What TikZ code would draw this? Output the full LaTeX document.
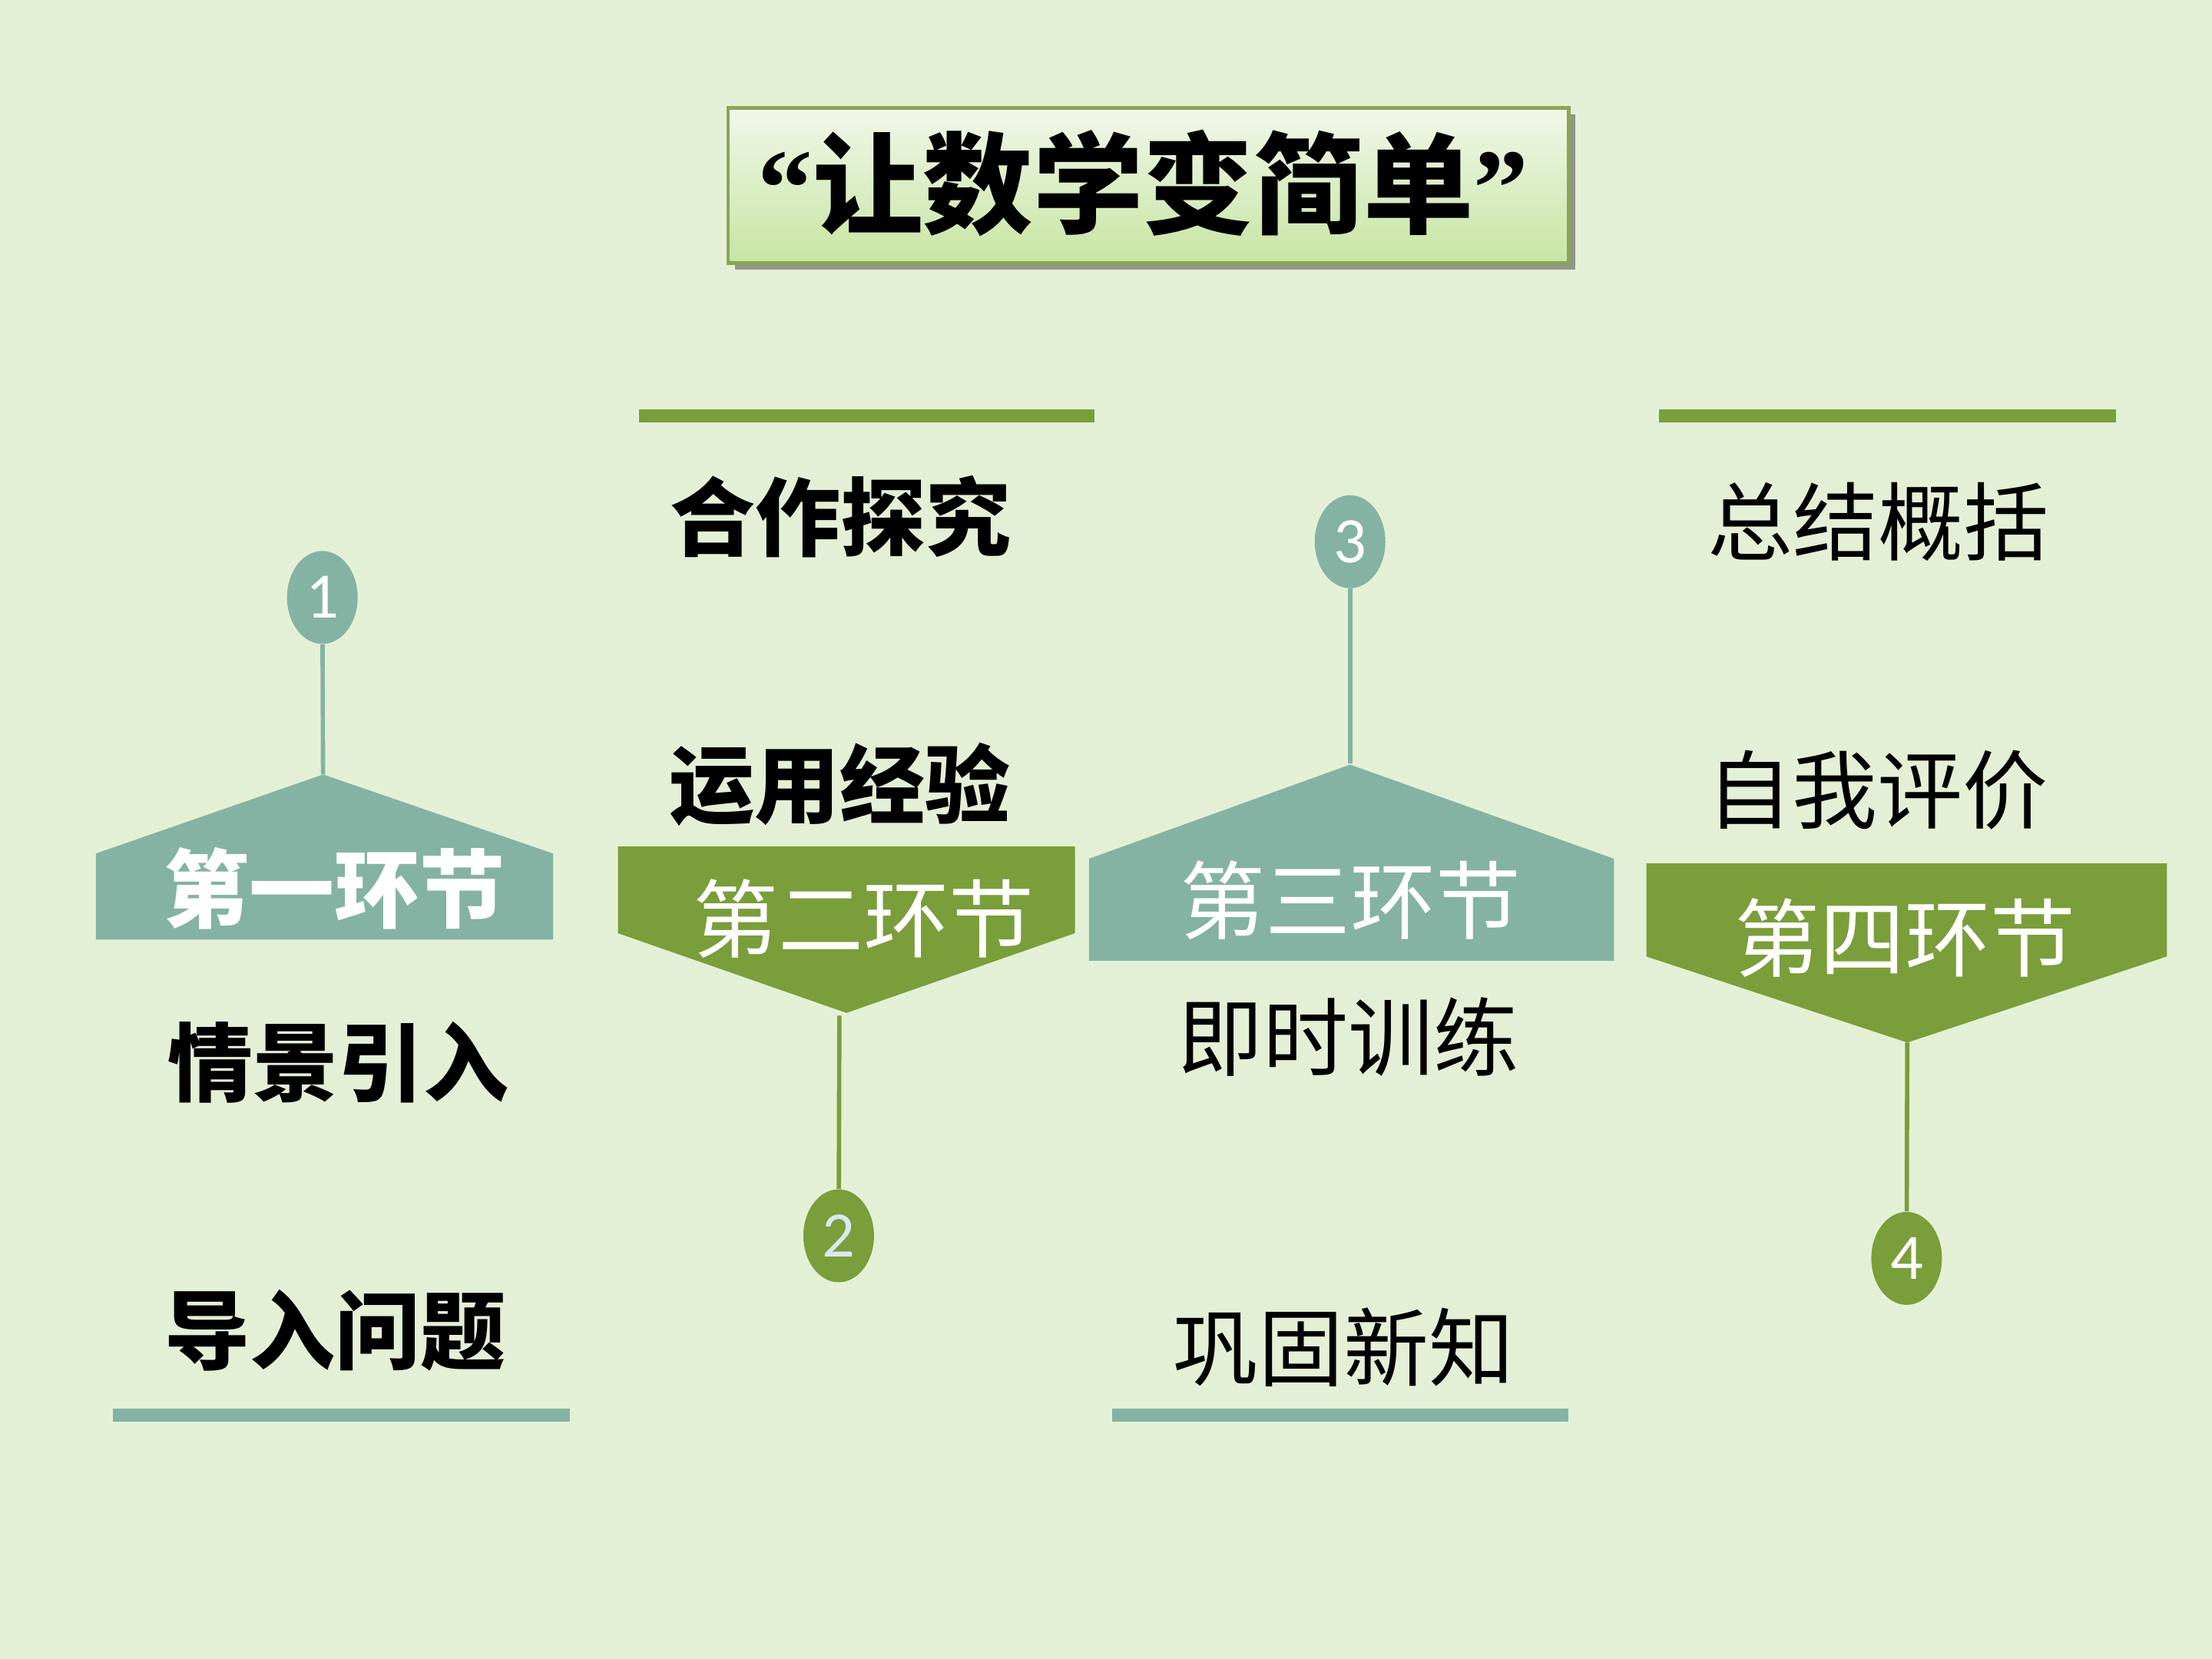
\documentclass[tikz,border=0pt]{standalone}
\usepackage{fontspec}
\usetikzlibrary{shapes.geometric,shadows}
\newfontfamily\cjk{Noto Sans CJK SC}
\newfontfamily\guill{Liberation Serif}
\newfontfamily\chiffre{Carlito}
\definecolor{fond}{RGB}{228,240,214}
\definecolor{sarcelle}{RGB}{132,179,163}
\definecolor{vertpre}{RGB}{122,158,58}
\definecolor{bordtitre}{RGB}{138,164,88}
\definecolor{hauttitre}{RGB}{241,247,233}
\definecolor{bastitre}{RGB}{199,229,163}
\definecolor{pale}{RGB}{220,230,240}

\begin{document}
\begin{tikzpicture}[x=0.018367cm,y=-0.018367cm,
  titre/.style={draw=bordtitre,line width=1.2pt,top color=hauttitre,
    bottom color=bastitre,minimum width=10.95cm,minimum height=2.02cm,
    inner sep=0pt,drop shadow={shadow xshift=2.5pt,shadow yshift=-2.5pt,
    opacity=0.55,fill=black!70}},
  etape/.style={inner sep=0pt,text=white,font=\cjk\fontsize{31.6}{38}\selectfont},
  gras/.style={inner sep=0pt,font=\cjk\bfseries\fontsize{31.6}{38}\selectfont},
  mot/.style={inner sep=0pt,font=\cjk\fontsize{31.6}{38}\selectfont},
  rond/.style={ellipse,minimum width=0.92cm,minimum height=1.21cm,
    inner sep=0pt,text=white,font=\chiffre\fontsize{24}{28}\selectfont},
  barre/.style={line width=4.7pt},
  tige/.style={line width=1.6pt}]
  \useasboundingbox (0,0) rectangle (1568,1176);
  \fill[fond] (0,0) rectangle (1568,1176); % fond

  % titre
  \node[titre] (titre) at (814,131.5) {};
  \node[inner sep=0pt,font=\cjk\bfseries\fontsize{40.8}{48}\selectfont]
  (devise) at (810.5,130) {{\guill\bfseries “}让数学变简单{\guill\bfseries ”}};

  % barres
  \draw[barre,vertpre] (453,294.7) -- (776,294.7);
  \draw[barre,vertpre] (1176,294.7) -- (1500,294.7);
  \draw[barre,sarcelle] (80,1003) -- (404,1003);
  \draw[barre,sarcelle] (788.5,1003) -- (1112,1003);

  % premier environnement
  \fill[sarcelle] (68,666) -- (68,605) -- (229,549) -- (392,605) --
  (392,666) -- cycle;
  \coordinate (sommet1) at (229,549);
  \node[rond,fill=sarcelle] (rond1) at (228.5,423.5) {1};
  \draw[tige,sarcelle] (rond1) -- (sommet1);
  \node[etape,font=\cjk\bfseries\fontsize{31.6}{38}\selectfont]
  (etape1) at (237,630) {第一环节};
  \node[gras] (scene) at (239.6,753) {情景引入};
  \node[gras] (question) at (237.7,943) {导入问题};

  % deuxieme
  \fill[vertpre] (438,600) -- (762,600) -- (762,661.5) -- (600,718) --
  (438,661.5) -- cycle;
  \coordinate (pointe2) at (595,720);
  \node[rond,fill=vertpre,text=pale] (rond2) at (594.5,876) {2};
  \draw[tige,vertpre] (pointe2) -- (rond2);
  \node[etape] (etape2) at (612,651) {第二环节};
  \node[gras] (cooperer) at (596,366) {合作探究};
  \node[gras] (appliquer) at (595.5,556) {运用经验};

  % troisieme
  \fill[sarcelle] (772,681) -- (772,608.7) -- (957,542) -- (1144,608.7) --
  (1144,681) -- cycle;
  \coordinate (sommet3) at (957,541);
  \node[rond,fill=sarcelle] (rond3) at (957,384) {3};
  \draw[tige,sarcelle] (rond3) -- (sommet3);
  \node[etape] (etape3) at (957.5,638) {第三环节};
  \node[mot] (exercer) at (955.6,735) {即时训练};
  \node[mot] (consolider) at (952.5,955) {巩固新知};

  % quatrieme
  \fill[vertpre] (1167,612) -- (1536,612) -- (1536,678) -- (1352,739) --
  (1167,678) -- cycle;
  \coordinate (pointe4) at (1352,739);
  \node[rond,fill=vertpre] (rond4) at (1351.5,892) {4};
  \draw[tige,vertpre] (pointe4) -- (rond4);
  \node[etape] (etape4) at (1350.5,665) {第四环节};
  \node[mot] (resumer) at (1331.5,370) {总结概括};
  \node[mot] (evaluer) at (1331,560) {自我评价};
\end{tikzpicture}
\end{document}
